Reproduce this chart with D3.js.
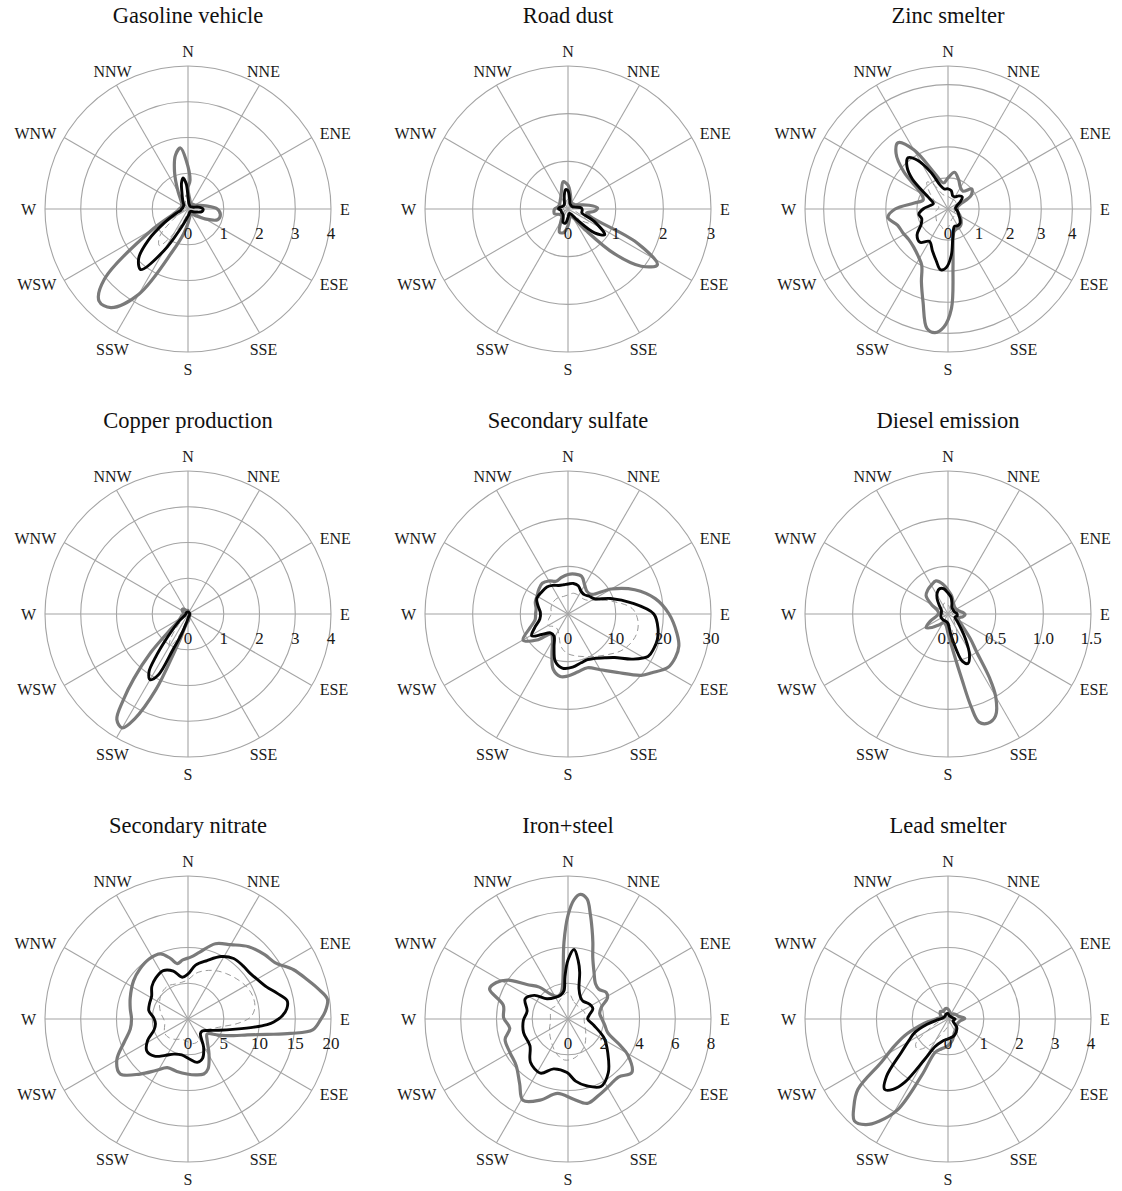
<!DOCTYPE html>
<html><head><meta charset="utf-8">
<script src="https://cdn.jsdelivr.net/npm/d3@7"></script>
<style>body{margin:0;background:#fff} svg{display:block}</style>
</head><body>
<svg id="chart" width="1122" height="1191"></svg>
<script>
// ---------- DATA ----------
const titles = ["Gasoline vehicle","Road dust","Zinc smelter","Copper production","Secondary sulfate","Diesel emission","Secondary nitrate","Iron+steel","Lead smelter"];
const directionLabels = ["N","NNE","ENE","E","ESE","SSE","S","SSW","WSW","W","WNW","NNW"];
const directionAngles = [0,30,60,90,120,150,180,210,240,270,300,330];
const scaleMax = [4, 3, 4.6, 4, 30, 1.5, 20, 8, 4];
const tickValues = [[0,1,2,3,4],[0,1,2,3],[0,1,2,3,4],[0,1,2,3,4],[0,10,20,30],[0,0.5,1,1.5],[0,5,10,15,20],[0,2,4,6,8],[0,1,2,3,4]];
const tickLabels = [["0","1","2","3","4"],["0","1","2","3"],["0","1","2","3","4"],["0","1","2","3","4"],["0","10","20","30"],["0.0","0.5","1.0","1.5"],["0","5","10","15","20"],["0","2","4","6","8"],["0","1","2","3","4"]];

// series: [wind direction (deg), value]
const gasGray = [[0,0.6],[10,0.28],[20,0.2],[30,0.18],[40,0.18],[50,0.2],[60,0.22],[70,0.3],[80,0.5],[90,0.82],[100,0.92],[110,0.88],[120,0.55],[130,0.3],[140,0.18],[150,0.15],[160,0.18],[170,0.25],[180,0.4],[190,0.7],[200,1.25],[210,2.75],[218,3.5],[224,3.58],[230,3.05],[240,1.15],[250,0.45],[260,0.3],[270,0.25],[280,0.2],[290,0.2],[300,0.2],[310,0.22],[320,0.3],[330,0.55],[340,1.1],[347,1.55],[353,1.72],[358,1.35],[4,0.8]];
const gasBlack = [[0,0.35],[10,0.15],[20,0.12],[30,0.1],[40,0.1],[50,0.1],[60,0.12],[70,0.15],[80,0.3],[90,0.42],[100,0.4],[110,0.25],[120,0.15],[130,0.1],[140,0.1],[150,0.1],[160,0.12],[170,0.15],[180,0.2],[190,0.3],[200,0.55],[210,1.35],[218,2.15],[225,1.95],[232,1.4],[240,0.75],[250,0.35],[260,0.2],[270,0.18],[280,0.15],[290,0.15],[300,0.15],[310,0.15],[320,0.2],[330,0.3],[340,0.5],[346,0.75],[351,0.88],[356,0.7]];
const gasDash = [[0,0.2],[20,0.08],[40,0.08],[60,0.08],[80,0.12],[90,0.2],[100,0.2],[110,0.12],[130,0.08],[150,0.08],[170,0.08],[190,0.15],[200,0.35],[210,0.8],[218,1.3],[226,1.1],[235,0.5],[245,0.2],[260,0.1],[280,0.1],[300,0.1],[320,0.1],[335,0.15],[345,0.3],[352,0.4]];

const rdGray = [[0,0.5],[10,0.3],[20,0.18],[30,0.15],[45,0.15],[60,0.18],[70,0.25],[80,0.45],[88,0.62],[95,0.55],[102,0.4],[110,0.55],[116,1.6],[122,2.21],[128,1.95],[134,1.35],[140,0.6],[150,0.2],[160,0.15],[170,0.2],[180,0.35],[190,0.5],[200,0.52],[210,0.3],[220,0.2],[235,0.2],[250,0.3],[260,0.3],[270,0.28],[280,0.22],[295,0.2],[310,0.22],[320,0.25],[330,0.3],[340,0.4],[350,0.58]];
const rdBlack = [[0,0.38],[10,0.2],[20,0.12],[40,0.1],[60,0.1],[75,0.15],[85,0.28],[95,0.3],[105,0.3],[115,0.6],[125,0.94],[132,0.75],[140,0.3],[150,0.12],[165,0.1],[180,0.18],[190,0.3],[200,0.3],[210,0.2],[225,0.15],[245,0.15],[260,0.15],[270,0.2],[280,0.18],[300,0.12],[320,0.12],[335,0.18],[345,0.3],[353,0.41]];
const rdDash = [[0,0.2],[15,0.1],[45,0.08],[75,0.08],[90,0.12],[105,0.15],[115,0.3],[123,0.55],[132,0.35],[145,0.12],[170,0.08],[195,0.15],[210,0.12],[240,0.08],[270,0.1],[300,0.08],[330,0.1],[350,0.18]];

const znGray = [[0,1.0],[10,1.2],[20,1.0],[30,0.8],[40,0.75],[50,1.0],[60,0.85],[70,0.4],[80,0.3],[90,0.3],[100,0.3],[110,0.35],[120,0.45],[130,0.55],[140,0.65],[150,0.7],[158,0.7],[165,0.75],[170,0.95],[175,1.85],[178,3.2],[182,3.8],[186,4.0],[190,3.9],[195,3.1],[200,2.5],[205,2.0],[212,1.8],[222,1.65],[232,1.6],[242,1.64],[252,1.7],[262,1.95],[270,1.7],[280,1.1],[290,0.85],[300,1.0],[310,1.85],[317,2.45],[323,2.67],[330,2.2],[340,1.2],[350,0.85]];
const znBlack = [[0,0.65],[10,0.6],[20,0.45],[30,0.45],[40,0.55],[50,0.6],[60,0.45],[70,0.3],[80,0.25],[90,0.25],[100,0.3],[110,0.35],[120,0.4],[130,0.5],[140,0.6],[150,0.62],[160,0.6],[170,0.9],[176,1.5],[182,1.9],[187,1.97],[193,1.7],[200,1.45],[210,1.2],[220,1.4],[230,1.3],[240,1.0],[250,0.9],[260,0.95],[270,0.8],[280,0.6],[290,0.5],[300,0.7],[310,1.5],[316,1.9],[322,2.09],[328,1.85],[335,1.3],[342,0.8],[350,0.65]];
const znDash = [[0,0.4],[20,0.35],[40,0.35],[60,0.3],[80,0.2],[100,0.2],[120,0.25],[140,0.3],[160,0.35],[180,0.6],[190,0.7],[200,0.6],[220,0.55],[240,0.45],[260,0.4],[280,0.3],[300,0.5],[315,0.9],[322,1.1],[330,0.9],[340,0.5]];

const cuGray = [[0,0.1],[20,0.06],[40,0.05],[60,0.05],[80,0.05],[100,0.05],[120,0.06],[140,0.07],[160,0.1],[175,0.18],[190,0.3],[197,0.7],[200,1.2],[203,2.3],[207,3.3],[210,3.68],[214,3.56],[217,3.0],[220,2.35],[224,1.5],[229,0.6],[236,0.3],[250,0.2],[260,0.15],[275,0.12],[290,0.15],[305,0.2],[315,0.2],[325,0.15],[340,0.1]];
const cuBlack = [[0,0.06],[30,0.05],[60,0.05],[90,0.05],[120,0.05],[150,0.06],[175,0.1],[190,0.25],[198,0.6],[203,1.1],[206,1.9],[210,2.12],[214,1.95],[217,1.5],[220,1.05],[224,0.65],[232,0.3],[245,0.1],[270,0.06],[300,0.06],[330,0.06]];
const cuDash = [[0,0.04],[60,0.04],[120,0.04],[180,0.08],[200,0.5],[206,0.9],[210,1.05],[215,0.85],[222,0.4],[240,0.08],[300,0.04]];

const suGray = [[0,8.3],[10,8.5],[20,8.4],[30,7.0],[40,6.2],[50,6.4],[60,10.5],[70,14.9],[80,18.6],[90,21.2],[100,23.2],[106,24.2],[112,24.3],[118,23.8],[125,21.5],[130,20],[140,16],[150,13.5],[160,12],[170,12.3],[180,13],[187,13.2],[195,12],[202,9],[210,6.5],[220,5.5],[230,8.5],[240,10.9],[250,8.5],[260,7],[270,6.8],[280,6.8],[290,7.3],[300,7.5],[310,8],[320,8.4],[330,8],[340,7.3],[350,7.8]];
const suBlack = [[0,6.3],[10,6.5],[20,6.3],[30,5.5],[40,5.3],[50,5.8],[60,6.4],[70,9.5],[80,13.5],[90,18.0],[100,19.2],[106,19.5],[112,19.4],[118,19.0],[125,16.5],[133,13.4],[140,12],[150,10.8],[157,10.4],[165,10.6],[175,11.2],[186,11.4],[195,10.3],[203,7.5],[212,5.5],[223,5.4],[232,7],[239,8.9],[248,7.5],[260,6],[273,5.8],[285,6.5],[296,7.3],[310,7.2],[322,7.2],[332,6.8],[342,6.3],[352,6.2]];
const suDash = [[0,4],[15,4.5],[30,4.5],[45,4.5],[55,5],[65,7],[75,10],[85,13.5],[95,14.7],[105,15],[115,14.5],[125,13.5],[135,12],[148,10.5],[160,9.5],[172,8.8],[182,8.2],[192,7],[202,5],[212,4],[225,3.8],[240,4.8],[255,4.2],[270,3.5],[290,3.8],[310,4],[330,4],[345,3.8]];

const deGray = [[0,0.25],[10,0.2],[20,0.15],[30,0.12],[45,0.1],[60,0.1],[75,0.12],[85,0.16],[92,0.18],[100,0.16],[110,0.12],[120,0.13],[130,0.2],[138,0.35],[143,0.5],[147,0.8],[150,1.0],[155,1.18],[160,1.22],[164,1.18],[166,1.0],[168,0.7],[172,0.4],[180,0.2],[190,0.12],[205,0.1],[220,0.15],[230,0.22],[238,0.27],[248,0.2],[260,0.12],[275,0.1],[290,0.12],[300,0.2],[310,0.3],[320,0.33],[330,0.35],[340,0.37],[350,0.32]];
const deBlack = [[0,0.22],[10,0.18],[20,0.12],[30,0.08],[50,0.07],[70,0.07],[85,0.09],[100,0.1],[115,0.08],[128,0.12],[138,0.2],[145,0.32],[152,0.48],[158,0.56],[163,0.52],[167,0.38],[172,0.22],[180,0.1],[195,0.08],[220,0.08],[250,0.08],[275,0.07],[300,0.08],[315,0.13],[325,0.2],[333,0.25],[342,0.28],[350,0.27]];
const deDash = [[0,0.1],[30,0.05],[90,0.05],[140,0.1],[155,0.22],[162,0.25],[170,0.12],[200,0.05],[270,0.05],[320,0.08],[340,0.12]];

const niGray = [[3,8.7],[10,9.5],[20,11.2],[30,12.0],[40,13.2],[50,14.0],[57,14.5],[65,16.3],[72,17.6],[77,18.7],[82,19.7],[87,19.2],[90,18.6],[95,17.5],[98,14.5],[101,11.3],[105,8.6],[110,6.8],[118,4.8],[128,3.4],[138,4.0],[149,5.7],[158,7.5],[164,8.0],[172,7.9],[181,7.7],[192,7.5],[203,7.4],[212,8.5],[221,10.2],[231,12.2],[240,11.5],[250,9.5],[260,8.2],[270,7.9],[280,8.2],[290,8.6],[305,9.3],[316,9.7],[327,10],[337,9.9],[344,8.8],[349,7.9],[355,8.3]];
const niBlack = [[0,6.3],[8,7.6],[18,8.6],[28,9.9],[37,10.6],[46,10.7],[54,10.8],[62,11.3],[68,11.9],[74,13],[79.5,14.1],[84,13.9],[88,13.2],[92,12.0],[94,11.1],[97,9.3],[102,6.8],[110,4.6],[120,3.2],[130,2.6],[140,2.7],[151,4.5],[160,5.9],[168,6.2],[178,5.6],[190,5.1],[202,5.3],[212,6.0],[222,7.0],[232,7.3],[242,6.4],[252,5.0],[262,4.6],[272,4.8],[282,5.6],[292,5.8],[302,6.0],[312,6.8],[322,7.3],[333,7.6],[343,7.0],[352,5.9]];
const niDash = [[0,5.5],[10,6.5],[20,7.2],[30,7.8],[40,8.3],[50,8.8],[60,9.3],[70,9.6],[80,9.5],[88,8.8],[95,7.0],[102,5.0],[110,3.8],[120,3.0],[130,2.8],[140,2.8],[150,3.2],[160,3.5],[170,3.5],[180,3.2],[190,3.0],[200,3.0],[210,3.3],[220,3.6],[230,3.8],[240,3.8],[250,3.5],[260,3.3],[270,3.4],[280,3.8],[290,4.2],[300,4.6],[310,5.0],[320,5.3],[330,5.4],[340,5.2],[350,5.2]];

const isGray = [[0,5.8],[3,6.7],[5.6,7.0],[9,6.8],[12,6.0],[15,5.2],[18,4.5],[22,3.7],[29,3.0],[38,2.5],[46,2.4],[55,2.6],[62,2.5],[70,2.0],[80,1.8],[90,1.9],[100,2.1],[109,2.35],[117,3.3],[121,3.9],[130,4.66],[139,4.3],[149,4.4],[158,4.6],[167,4.84],[176,4.5],[188,4.2],[199,4.8],[209,5.2],[217,4.5],[228,3.9],[240,3.75],[252,3.7],[261,3.3],[271,3.6],[282,3.7],[291,4.7],[297,4.5],[303,4.0],[310,3.0],[318,2.4],[325,1.7],[335,1.4],[345,1.5],[350,1.8],[354,2.6],[357,4.3]];
const isBlack = [[0,3.3],[5,3.9],[10,3.3],[14,2.7],[20,1.8],[30,1.4],[40,1.3],[50,1.4],[60,1.5],[68,1.5],[80,1.2],[90,1.1],[104,1.5],[118,2.3],[130,2.9],[143,3.75],[154,4.2],[164,3.9],[173,3.5],[181,3.0],[196,2.9],[207,3.4],[221,3.2],[235,2.6],[253,2.6],[268,2.5],[281,2.33],[295,2.65],[305,2.3],[314,1.63],[330,1.4],[343,1.4],[352,1.6],[356,2.4]];
const isDash = [[0,1.5],[20,1.0],[45,0.9],[70,1.0],[90,0.9],[110,1.0],[130,1.3],[150,1.8],[170,2.2],[185,2.3],[200,2.0],[220,1.5],[240,1.2],[260,1.0],[280,1.0],[300,1.1],[320,1.0],[340,1.2]];

const pbGray = [[0,0.28],[15,0.2],[30,0.15],[45,0.2],[60,0.25],[75,0.3],[88,0.47],[98,0.35],[110,0.3],[125,0.3],[140,0.35],[155,0.42],[168,0.6],[180,0.75],[192,0.85],[201,1.0],[205,1.75],[209,2.9],[214,3.45],[218,3.75],[222.6,3.87],[227,3.6],[232,3.2],[237,2.23],[243,1.7],[249,1.3],[256,0.85],[262,0.57],[272,0.3],[285,0.2],[300,0.25],[315,0.3],[330,0.25],[345,0.3]];
const pbBlack = [[0,0.15],[20,0.1],[45,0.1],[70,0.12],[90,0.2],[110,0.15],[135,0.35],[160,0.5],[178,0.55],[195,0.65],[205,0.85],[210,1.3],[214.4,2.15],[218,2.5],[222,2.65],[227,2.35],[234.5,1.6],[241,1.25],[248,1.0],[256,0.6],[265,0.3],[280,0.15],[300,0.12],[320,0.12],[340,0.15]];
const pbDash = [[0,0.08],[60,0.06],[120,0.06],[180,0.2],[205,0.5],[215,0.9],[225,1.2],[232,1.15],[240,0.7],[255,0.25],[280,0.08],[320,0.06]];

const graySeries = [gasGray, rdGray, znGray, cuGray, suGray, deGray, niGray, isGray, pbGray];
const blackSeries = [gasBlack, rdBlack, znBlack, cuBlack, suBlack, deBlack, niBlack, isBlack, pbBlack];
const dashSeries = [gasDash, rdDash, znDash, cuDash, suDash, deDash, niDash, isDash, pbDash];

// ---------- DRAW ----------
const svg = d3.select("#chart");
const R = 143;
const FONT = "'Liberation Serif','Times New Roman',serif";
const rad = d => d * Math.PI / 180;

titles.forEach((title, i) => {
  const col = i % 3, row = Math.floor(i / 3);
  const cx = 188 + col * 380, cy = 209 + row * 405;
  const g = svg.append("g").attr("transform", `translate(${cx},${cy})`);
  const r = d3.scaleLinear().domain([0, scaleMax[i]]).range([0, R]);

  const rings = tickValues[i].filter(v => v > 0);
  if (rings[rings.length - 1] < scaleMax[i]) rings.push(scaleMax[i]);
  g.selectAll("circle.ring").data(rings).join("circle")
    .attr("class", "ring").attr("r", d => r(d))
    .attr("fill", "none").attr("stroke", "#a4a4a4").attr("stroke-width", 1.1);

  g.selectAll("line.spoke").data(directionAngles).join("line")
    .attr("class", "spoke")
    .attr("x1", 0).attr("y1", 0)
    .attr("x2", d => R * Math.sin(rad(d))).attr("y2", d => -R * Math.cos(rad(d)))
    .attr("stroke", "#a4a4a4").attr("stroke-width", 1.1);

  // direction labels
  const LR = 151;
  g.selectAll("text.dir").data(directionAngles).join("text")
    .attr("class", "dir")
    .attr("font-family", FONT).attr("font-size", 16).attr("fill", "#1a1a1a")
    .each(function(d, k) {
      const px = LR * Math.sin(rad(d)), py = -LR * Math.cos(rad(d));
      const t = d3.select(this).text(directionLabels[k]);
      if (d === 0 || d === 30 || d === 330) {
        t.attr("x", px).attr("y", py - 1).attr("text-anchor", "middle");
      } else if (d === 150 || d === 180 || d === 210) {
        t.attr("x", px).attr("y", py + 15).attr("text-anchor", "middle");
      } else if (d > 0 && d < 180) {
        t.attr("x", px + 1).attr("y", py + 5.5).attr("text-anchor", "start");
      } else {
        t.attr("x", px - 1).attr("y", py + 5.5).attr("text-anchor", "end");
      }
    });

  // lines
  const line = d3.lineRadial()
    .angle(d => rad(d[0])).radius(d => r(d[1]))
    .curve(d3.curveCatmullRomClosed.alpha(0.5));
  g.append("path").datum(dashSeries[i]).attr("d", line)
    .attr("fill", "none").attr("stroke", "#9a9a9a").attr("stroke-width", 1)
    .attr("stroke-dasharray", "6,4");
  g.append("path").datum(graySeries[i]).attr("d", line)
    .attr("fill", "none").attr("stroke", "#7a7a7a").attr("stroke-width", 3.2)
    .attr("stroke-linejoin", "round");
  g.append("path").datum(blackSeries[i]).attr("d", line)
    .attr("fill", "none").attr("stroke", "#050505").attr("stroke-width", 2.9)
    .attr("stroke-linejoin", "round");

  // radial tick labels along E axis
  g.selectAll("text.tick").data(tickValues[i]).join("text")
    .attr("class", "tick")
    .attr("x", d => r(d)).attr("y", 30)
    .attr("text-anchor", "middle")
    .attr("font-family", FONT).attr("font-size", 17).attr("fill", "#1a1a1a")
    .text((d, k) => tickLabels[i][k]);

  // title
  g.append("text").attr("x", 0).attr("y", -186)
    .attr("text-anchor", "middle")
    .attr("font-family", FONT).attr("font-size", 22.5).attr("fill", "#111")
    .text(title);
});
</script>
</body></html>
